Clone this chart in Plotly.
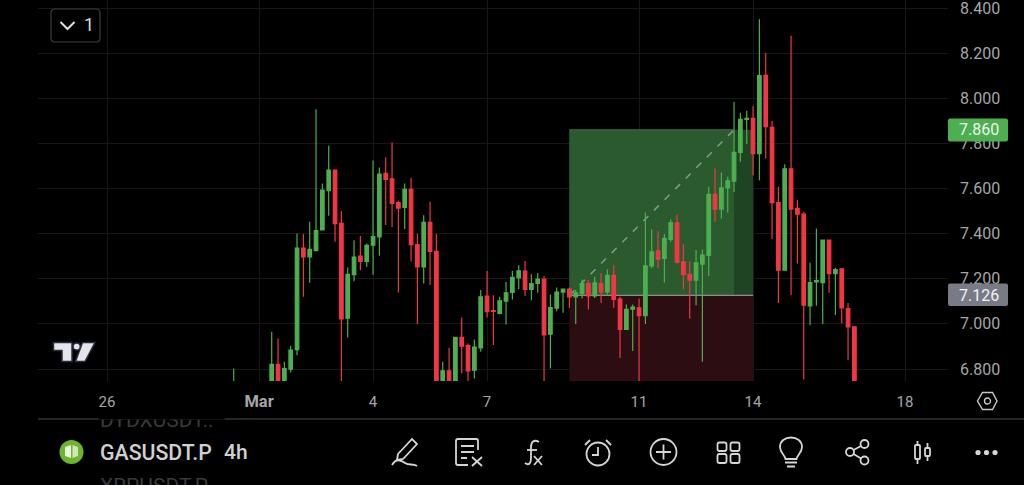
import re
import pandas as pd
import plotly.graph_objects as go

W, H = 1024, 485
L, R, T, B = 38, 948, 0, 381

first_candle = "2024-02-29 08:00"
first_open, first_high, first_low, first_close = 6.70, 6.802, 6.68, 6.74

opens = [6.72,6.821,6.72,6.799,6.886,7.336,7.297,7.325,7.416,7.590,7.682,7.445,7.025,7.218,7.300,7.277,7.349,7.386,7.667,7.643,7.537,7.516,7.596,7.351,7.252,7.450,7.321,
         6.72,6.792,6.72,6.940,6.904,6.795,6.894,7.123,7.059,7.046,7.101,7.139,7.204,7.234,7.153,7.179,7.198,6.954,7.070,7.141,7.154,7.120,7.135,7.179,7.124,7.179,7.142,7.215,7.110,6.975,7.065,7.071,
         7.036,7.257,7.324,7.290,7.374,7.448,7.275,7.219,7.194,7.265,7.303,7.574,7.509,7.603,7.633,7.760,7.906,7.911,7.755,8.101,7.871,7.538,7.238,7.687,7.512,7.486,7.080,7.186,7.183,7.371,7.223,7.244,7.068,6.987]
highs = [6.965,6.935,6.832,6.903,7.401,7.398,7.453,7.951,7.622,7.790,7.682,7.500,7.250,7.371,7.390,7.356,7.724,7.693,7.739,7.804,7.546,7.622,7.648,7.398,7.482,7.541,7.398,
         6.832,6.894,6.943,7.028,6.913,6.931,7.150,7.234,7.127,7.120,7.186,7.235,7.260,7.279,7.220,7.226,7.212,7.130,7.161,7.157,7.161,7.150,7.197,7.194,7.209,7.226,7.241,7.260,7.120,7.086,7.086,7.113,
         7.494,7.418,7.411,7.398,7.464,7.485,7.353,7.278,7.327,7.330,7.608,7.689,7.671,7.652,7.985,7.936,7.945,7.965,8.350,8.202,7.899,7.608,7.708,8.277,7.549,7.497,7.271,7.423,7.371,7.371,7.249,7.246,7.093,6.987]
lows = [6.68,6.70,6.70,6.784,6.861,7.120,7.182,7.325,7.416,7.479,7.364,6.72,6.940,7.189,7.238,7.253,7.218,7.302,7.438,7.429,7.139,7.420,7.277,6.999,7.179,7.172,6.70,
        6.70,6.70,6.70,6.780,6.73,6.758,6.876,7.028,6.906,7.043,6.997,7.108,7.153,7.123,7.105,7.138,6.74,6.802,7.056,7.049,7.071,6.999,7.113,7.064,7.115,7.093,7.130,7.072,6.849,6.975,6.880,6.73,
        6.999,7.246,7.246,7.183,7.364,7.268,7.152,7.024,7.083,6.832,7.212,7.452,7.467,7.492,7.585,7.719,7.797,7.659,7.637,7.733,7.376,7.093,7.238,7.127,7.268,6.753,6.994,7.080,6.999,7.138,7.039,7.002,6.839,6.70]
closes = [6.821,6.72,6.802,6.884,7.336,7.297,7.330,7.413,7.593,7.682,7.444,7.022,7.219,7.296,7.277,7.348,7.387,7.664,7.640,7.534,7.513,7.596,7.351,7.253,7.450,7.321,6.72,
          6.792,6.72,6.940,6.901,6.792,6.897,7.120,7.054,7.055,7.102,7.138,7.206,7.235,7.153,7.179,7.198,6.951,7.072,7.141,7.154,7.120,7.138,7.179,7.124,7.182,7.142,7.215,7.108,6.975,7.064,7.074,7.036,
          7.257,7.319,7.287,7.379,7.448,7.272,7.219,7.194,7.271,7.305,7.574,7.509,7.603,7.634,7.760,7.906,7.911,7.755,8.100,7.874,7.537,7.238,7.687,7.509,7.486,7.083,7.183,7.192,7.371,7.223,7.241,7.071,6.987,6.72]

y_ticks = [6.8, 7.0, 7.2, 7.4, 7.6, 7.8, 8.0, 8.2, 8.4]
x_tick_dates = ["2024-02-26", "2024-03-01", "2024-03-04", "2024-03-07", "2024-03-11", "2024-03-14", "2024-03-18"]
x_tick_text = ["26", '<span style="font-size:16.5px"><b>Mar</b></span>', "4", "7", "11", "14", "18"]

target_price = 7.860
entry_price = 7.126
pos_start = "2024-03-09 04:00"
pos_mid = "2024-03-13 12:00"
pos_end = "2024-03-14 00:00"

dates = [first_candle] + [d.strftime("%Y-%m-%d %H:%M") for d in pd.date_range("2024-03-01 08:00", periods=len(opens), freq="4h")]

GREEN, RED = "#4caf50", "#f23645"
ICON = "#d6d6d6"
FONT = "Roboto"


def xp(x):
    return (x - L) / (R - L)


def yp(y):
    return (B - y) / (B - T)


def path(s):
    toks = re.findall(r"[A-Za-z]|-?\d+\.?\d*", s)
    out, i = [], 0
    for t in toks:
        if t.isalpha():
            out.append(t)
            i = 0
        else:
            v = float(t)
            out.append(f"{xp(v) if i % 2 == 0 else yp(v):.5f}")
            i += 1
    return " ".join(out)


def rrect(x0, y0, x1, y1, r):
    return (f"M{x0+r} {y0} L{x1-r} {y0} Q{x1} {y0} {x1} {y0+r} L{x1} {y1-r} Q{x1} {y1} {x1-r} {y1} "
            f"L{x0+r} {y1} Q{x0} {y1} {x0} {y1-r} L{x0} {y0+r} Q{x0} {y0} {x0+r} {y0} Z")


def ps(s, color=None, fill=None, width=1.8):
    return dict(type="path", xref="paper", yref="paper", layer="above", path=path(s),
                line=dict(color=color or "rgba(0,0,0,0)", width=width if color else 0),
                fillcolor=fill or "rgba(0,0,0,0)")


def circ(cx, cy, r, color=None, fill=None, width=1.8):
    return dict(type="circle", xref="paper", yref="paper", layer="above",
                x0=xp(cx - r), x1=xp(cx + r), y0=yp(cy + r), y1=yp(cy - r),
                line=dict(color=color or "rgba(0,0,0,0)", width=width if color else 0),
                fillcolor=fill or "rgba(0,0,0,0)")


fig = go.Figure(go.Candlestick(
    x=dates, open=[first_open] + opens, high=[first_high] + highs, low=[first_low] + lows, close=[first_close] + closes,
    increasing=dict(line=dict(color=GREEN, width=1.2), fillcolor=GREEN),
    decreasing=dict(line=dict(color=RED, width=1.2), fillcolor=RED),
    whiskerwidth=0, hoverinfo="skip", showlegend=False,
))

shapes = [
    dict(type="rect", xref="x", yref="y", layer="between", x0=pos_start, x1=pos_end, y0=entry_price, y1=target_price,
         fillcolor="#1f4424", line_width=0),
    dict(type="rect", xref="x", yref="y", layer="between", x0=pos_start, x1=pos_mid, y0=entry_price, y1=target_price,
         fillcolor="#2a5a2e", line_width=0),
    dict(type="rect", xref="x", yref="y", layer="between", x0=pos_start, x1=pos_end, y0=6.6, y1=entry_price,
         fillcolor="#2c0d11", line_width=0),
    dict(type="line", xref="x", yref="y", layer="between", x0=pos_start, x1=pos_end, y0=entry_price, y1=entry_price,
         line=dict(color="#8a8f8a", width=1.3)),
    dict(type="line", xref="x", yref="y", layer="between", x0=pos_start, x1=pos_mid, y0=target_price, y1=target_price,
         line=dict(color="#3f7044", width=1)),
    dict(type="line", xref="x", yref="y", layer="between", x0=pos_start, x1=pos_mid, y0=entry_price, y1=target_price,
         line=dict(color="#7f9f82", width=1.5, dash="7px,8px")),
    # divider
    dict(type="line", xref="paper", yref="paper", layer="above", x0=0, x1=xp(1024), y0=yp(419), y1=yp(419),
         line=dict(color="#4a4a55", width=1)),
    # price labels
    ps(rrect(948, 118.5, 1008, 141.5, 2), fill="#4caf50"),
    ps(rrect(948, 283.5, 1008, 306, 2), fill="#787b86"),
    # collapse button
    ps(rrect(51, 9, 100, 42, 4), color="#3d3d3d", width=1.2, fill="#000000"),
    ps("M60.5 22 L67.5 29 L74.5 22", color="#e0e0e0", width=2),
    # TradingView logo
    ps("M53.5 342.5 L72 342.5 L72 361.5 L62 361.5 L62 350.5 L53.5 350.5 Z", fill="#e4e4ee", color="#2a2e39", width=1.5),
    circ(76.7, 346.5, 3.6, fill="#e4e4ee", color="#2a2e39", width=1.5),
    ps("M82.5 342.5 L95 342.5 L85 361.5 L75.5 361.5 Z", fill="#e4e4ee", color="#2a2e39", width=1.5),
    # hexagon
    ps("M977.5 401 L982.5 392.5 L992.5 392.5 L997 401 L992.5 409.5 L982.5 409.5 Z", color="#c8c8c8", width=1.4),
    circ(987.5, 401, 3, color="#c8c8c8", width=1.4),
    # coin
    circ(71.5, 452, 12, fill="#6cb52d"),
    ps("M65 447 L71 445 L71 458 L65 456 Z", fill="#e8f2de"),
    ps("M72.5 445 L78 447 L78 456 L72.5 458 Z", fill="#cfe5bb"),
    # pen
    ps("M398 454 L412 439 L417 444 L403 459 L397 460 Z", color=ICON),
    ps("M392 465 C396 458 401 460 405 463 C409 466 413 463 417 466", color=ICON),
    # note
    ps("M478 450 L478 441 Q478 439 476 439 L458 439 Q456 439 456 441 L456 463 Q456 465 458 465 L468 465", color=ICON),
    ps("M461 446 L474 446 M461 452 L474 452 M461 458 L467 458", color=ICON),
    ps("M472 457 L482 466 M482 457 L472 466", color=ICON),
    # fx
    ps("M525 463 C529 466 531 463 531 458 L531 447 C531 442 534 439 539 442", color=ICON),
    ps("M527 450 L537 450", color=ICON),
    ps("M534 456 L542 465 M542 456 L534 465", color=ICON),
    # alarm
    circ(598, 454, 11.5, color=ICON),
    ps("M598 447 L598 455 L592 455", color=ICON),
    ps("M585 445 L590 440 M611 445 L606 440", color=ICON),
    # plus
    circ(663.5, 452, 13, color=ICON),
    ps("M663.5 444.5 L663.5 459.5 M656 452 L671 452", color=ICON),
    # grid
    ps(rrect(717.5, 442.5, 726.5, 451, 2), color=ICON),
    ps(rrect(730.5, 442.5, 739.5, 451, 2), color=ICON),
    ps(rrect(717.5, 454, 726.5, 463, 2), color=ICON),
    ps(rrect(730.5, 454, 739.5, 463, 2), color=ICON),
    # bulb
    ps("M785.5 459 C785 455 780 453 780 447 C780 441 785 437.5 791 437.5 C797 437.5 802 441 802 447 C802 453 797 455 796.5 459 Z", color=ICON),
    ps("M785 462.5 L797 462.5 M787 466.5 L795 466.5", color=ICON),
    # share
    circ(864.5, 444, 4, color=ICON),
    circ(850, 452, 4, color=ICON),
    circ(864.5, 460.5, 4, color=ICON),
    ps("M853.5 450 L861 446 M853.5 454 L861 458.5", color=ICON),
    # candles icon
    ps(rrect(915, 445, 920, 459, 1), color=ICON),
    ps(rrect(925, 448, 930, 456, 1), color=ICON),
    ps("M917.5 441 L917.5 445 M917.5 459 L917.5 464 M927.5 443 L927.5 448 M927.5 456 L927.5 461", color=ICON),
    # dots
    circ(978, 452.5, 2.6, fill=ICON),
    circ(986.5, 452.5, 2.6, fill=ICON),
    circ(995, 452.5, 2.6, fill=ICON),
]


def text(x, y, s, size, color, anchor="left", yref="paper", weight=400, **kw):
    return dict(x=xp(x), xref="paper", y=yp(y) if yref == "paper" else y, yref=yref, text=s, showarrow=False,
                xanchor=anchor, yanchor="middle", font=dict(family=FONT, size=size, color=color, weight=weight), **kw)


annotations = [
    text(979, target_price, f"{target_price:.3f}", 16, "#f2f2f2", "center", "y"),
    text(979, entry_price, f"{entry_price:.3f}", 16, "#f2f2f2", "center", "y"),
    text(82, 25, "1", 18, "#d8d8d8"),
    text(98, 419.5, "DYDXUSDT.:", 21, "#3a3a3a"),
    dict(x=xp(98), xref="paper", y=yp(414.7), yref="paper", yanchor="middle", xanchor="left", text=" ",
         font=dict(size=2), showarrow=False, width=125, height=8, bgcolor="#000000", borderpad=0),
    text(98, 486, "XRPUSDT.P", 21, "#3a3a3a"),
    text(98, 452, "GASUSDT.P", 21.3, "#d0d0d0", weight=500),
    text(222, 452, "4h", 21, "#d0d0d0", weight=500),
]

GRID = "#171717"
fig.update_layout(
    width=W, height=H, autosize=False,
    margin=dict(l=L, r=W - R, t=T, b=H - B, pad=0),
    paper_bgcolor="#000000", plot_bgcolor="#000000",
    boxgap=0.2, showlegend=False,
    font=dict(family=FONT, color="#a6a6a6", size=15),
    shapes=shapes, annotations=annotations,
    xaxis=dict(type="date", range=["2024-02-24 04:24", "2024-03-19 03:07"], rangeslider_visible=False,
               tickmode="array", tickvals=x_tick_dates, ticktext=x_tick_text,
               showgrid=True, gridcolor=GRID, gridwidth=1, zeroline=False, showline=False,
               ticks="", ticklabelstandoff=10, tickfont=dict(size=15, color="#a6a6a6")),
    yaxis=dict(side="right", range=[6.7468, 8.4355], tickmode="array", tickvals=y_ticks, tickformat=".3f",
               showgrid=True, gridcolor=GRID, gridwidth=1, zeroline=False, showline=False,
               ticklabeloverflow="allow",
               ticks="", ticklabelstandoff=11, tickfont=dict(size=16, color="#a6a6a6")),
)

fig.write_html("out.html", config=dict(displayModeBar=False),
               post_script="document.body.style.margin='0';document.body.style.background='#000';")
